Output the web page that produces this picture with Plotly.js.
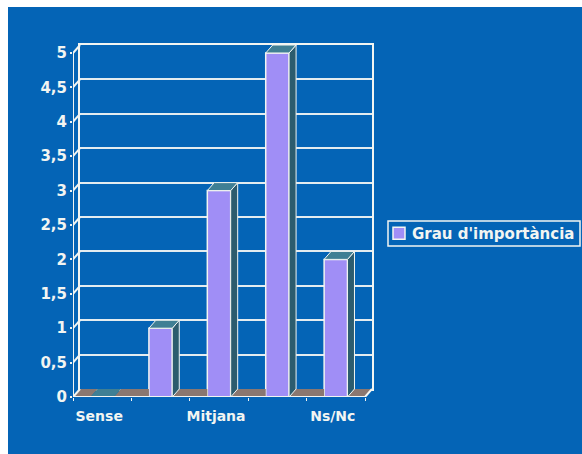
<!DOCTYPE html>
<html><head><meta charset="utf-8">
<script src="https://cdn.plot.ly/plotly-3.0.1.min.js"></script>
<style>html,body{margin:0;padding:0;background:#fff}</style></head>
<body><div id="c" style="width:582px;height:454px"></div>
<script>
const categories = ["Sense", "", "Mitjana", "", "Ns/Nc"];
const values = [0, 1, 3, 5, 2];
const yTicks = [0, 0.5, 1, 1.5, 2, 2.5, 3, 3.5, 4, 4.5, 5];
const yLabels = ["0", "0,5", "1", "1,5", "2", "2,5", "3", "3,5", "4", "4,5", "5"];
const seriesName = "Grau d'importància";

const W = 582, H = 454;
const front = {l: 73, r: 365, t: 52, b: 397};
const back = {l: 80, r: 372, t: 45, b: 389};
const dx = (back.l - front.l) / (front.r - front.l) * categories.length;
const dy = (front.b - back.b) / (front.b - front.t) * 5;
const barW = 0.4;
const xMin = -0.5, xMax = 4.5;
const xs = categories.map((_, i) => i);
const white = "#f2f5f2", topCol = "#3f7f94", sideCol = "#2c5c6e", floorCol = "#8a7770", barCol = "#a08ef6";

function poly(x, y, fill, lw) {
  return {type: "scatter", mode: "lines", x: x.concat(x[0]), y: y.concat(y[0]), xaxis: "x2", yaxis: "y2",
    fill: "toself", fillcolor: fill, line: {color: lw ? white : fill, width: lw || 0}, showlegend: false, hoverinfo: "skip"};
}
function seg(x, y, w) {
  return {type: "scatter", mode: "lines", x, y, xaxis: "x2", yaxis: "y2",
    line: {color: white, width: w || 2}, showlegend: false, hoverinfo: "skip"};
}
const traces = [];
// anchor trace for the back wall axes
traces.push({type: "scatter", mode: "lines", x: [xMin], y: [0], xaxis: "x", yaxis: "y", showlegend: false, hoverinfo: "skip"});
// floor pieces between the bars
const lefts = xs.map(x => x - barW / 2), rights = xs.map(x => x + barW / 2);
xs.concat(xs.length).forEach(i => {
  const a = i === 0 ? xMin : rights[i - 1];
  const b = i === xs.length ? xMax : lefts[i];
  const bBack = (i === xs.length || values[i] === 0) ? b + dx : b;
  traces.push(poly([a, b, bBack, a + dx], [0, 0, dy, dy], floorCol));
});
// left wall slants
yTicks.forEach(v => traces.push(seg([xMin, xMin + dx], [v, v + dy], 2)));
// top and side faces
xs.forEach((x, i) => {
  const l = lefts[i], r = rights[i], v = values[i];
  if (v > 0) traces.push(poly([r, r + dx, r + dx, r], [0, dy, v + dy, v], sideCol, 1));
  traces.push(poly([l, r, r + dx, l + dx], [v, v, v + dy, v + dy], topCol, v > 0 ? 1 : 0));
});
// front axis lines and right floor edge
traces.push(seg([xMin, xMin], [0, 5]));
traces.push(seg([xMin, xMax, xMax + dx], [0, 0, dy]));
// front faces
traces.push({type: "bar", name: seriesName, x: xs, y: values, xaxis: "x2", yaxis: "y2", width: barW,
  marker: {color: barCol, line: {color: white, width: 1.5}}, showlegend: true, hoverinfo: "x+y"});

const lblFont = {size: 14, weight: 700, color: white, family: "DejaVu Sans"};
const layout = {
  width: W, height: H, margin: {l: 0, r: 0, t: 0, b: 0}, paper_bgcolor: "#fff", plot_bgcolor: "rgba(0,0,0,0)",
  font: lblFont,
  barmode: "overlay",
  xaxis: {domain: [back.l / W, back.r / W], range: [xMin, xMax], anchor: "y", showgrid: false, zeroline: false, showticklabels: false,
    ticks: "", showline: true, linecolor: white, linewidth: 2, mirror: true},
  yaxis: {domain: [1 - back.b / H, 1 - back.t / H], range: [0, 5], anchor: "x", tickvals: yTicks, showgrid: true, gridcolor: "#e4ecf0", gridwidth: 2,
    zeroline: false, showticklabels: false, ticks: "", showline: true, linecolor: white, linewidth: 2, mirror: true},
  xaxis2: {domain: [front.l / W, back.r / W], range: [xMin, xMax + dx], anchor: "y2", showgrid: false, zeroline: false,
    tickvals: xs, ticktext: categories, ticks: "", showline: false, tickfont: lblFont, ticklabelstandoff: 9, ticklabelshift: -3,
    minor: {tickvals: [-0.5, 0.5, 1.5, 2.5, 3.5, 4.5], ticks: "outside", ticklen: 3, tickcolor: white, tickwidth: 1, showgrid: false}},
  yaxis2: {domain: [1 - front.b / H, 1 - back.t / H], range: [0, 5 + dy], anchor: "x2", tickvals: yTicks, ticktext: yLabels, showgrid: false, zeroline: false,
    ticks: "outside", ticklen: 2, tickcolor: white, tickwidth: 2, showline: false, tickfont: {size: 15, weight: 700, color: white, family: "DejaVu Sans"}},
  showlegend: true,
  legend: {x: 372 / W, xanchor: "left", y: 1 - 233.5 / H, yanchor: "middle", bgcolor: "rgba(0,0,0,0)", borderwidth: 0, font: {size: 15, weight: 700, color: white, family: "DejaVu Sans"}},
  shapes: [
    {type: "rect", xref: "paper", yref: "paper", x0: 8 / W, x1: 1, y0: 0, y1: 1 - 7 / H, fillcolor: "#0464b6", line: {width: 0}, layer: "below"},
    {type: "rect", xref: "paper", yref: "paper", x0: 388 / W, x1: 580 / W, y0: 1 - 246 / H, y1: 1 - 221 / H, fillcolor: "rgba(0,0,0,0)", line: {color: white, width: 1.5}, layer: "below"}
  ]
};
Plotly.newPlot("c", traces, layout, {displayModeBar: false, staticPlot: true}).then(() => {
  document.querySelectorAll("#c .legendsymbols").forEach(g => g.setAttribute("transform", "translate(7,0)"));
});
</script></body></html>
